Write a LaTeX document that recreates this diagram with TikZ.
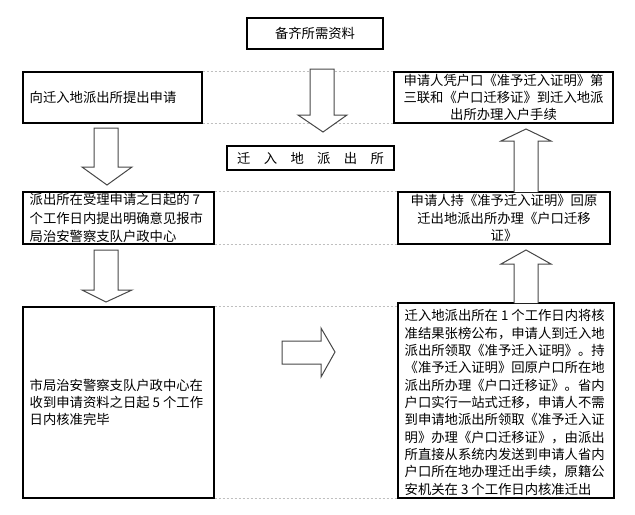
\documentclass[tikz,border=0pt]{standalone}
\usepackage{fontspec}
\setmainfont{Noto Sans CJK SC}
\def\px{0.75pt}
\begin{document}
\begin{tikzpicture}[x=0.75pt,y=-0.75pt,
  box/.style={draw, line width=1.1*\px, inner sep=0pt, align=center,
    font=\fontsize{10pt}{13pt}\selectfont},
  txt/.style={inner sep=0pt, align=left, anchor=west,
    font=\fontsize{10pt}{13pt}\selectfont},
  barrow/.style={draw=black!72, line width=1*\px, fill=white, line join=miter},
  guide/.style={draw=black!25, line width=0.7*\px, dash pattern=on 2.5*\px off 1.5*\px}]
\useasboundingbox (0,0) rectangle (635,514);
% boxes
\node[box, minimum width=136*\px, minimum height=31*\px] (top) at (315,33.5) {备齐所需资料};
\node[box, minimum width=179*\px, minimum height=51*\px] (L1) at (112.5,97.5) {};
\node[txt] (L1t) at ([xshift=7*\px]L1.west) {向迁入地派出所提出申请};
\node[box, minimum width=167*\px, minimum height=24*\px] (M) at (310.5,158) {迁　入　地　派　出　所};
\node[box, minimum width=219*\px, minimum height=51*\px] (R1) at (503.5,97.5)
  {申请人凭户口《准予迁入证明》第\\三联和《户口迁移证》到迁入地派\\出所办理入户手续};
\node[box, minimum width=191*\px, minimum height=52*\px] (L2) at (118.5,218) {};
\node[txt, font=\fontsize{10pt}{14pt}\selectfont] (L2t) at ([xshift=7*\px]L2.west)
  {派出所在受理申请之日起的 7\\个工作日内提出明确意见报市\\局治安警察支队户政中心};
\node[box, minimum width=212*\px, minimum height=52*\px] (R2) at (504,218)
  {申请人持《准予迁入证明》回原\\迁出地派出所办理《户口迁移\\证》};
\node[box, minimum width=191*\px, minimum height=191*\px] (L3) at (118.5,402.5) {};
\node[txt] (L3t) at ([xshift=7*\px]L3.west)
  {市局治安警察支队户政中心在\\收到申请资料之日起 5 个工作\\日内核准完毕};
\node[box, minimum width=216*\px, minimum height=195*\px] (R3) at (506,400.5) {};
\node[txt] (R3t) at ([xshift=7*\px,yshift=-2*\px]R3.west)
  {迁入地派出所在 1 个工作日内将核\\准结果张榜公布，申请人到迁入地\\派出所领取《准予迁入证明》。持\\《准予迁入证明》回原户口所在地\\派出所办理《户口迁移证》。省内\\户口实行一站式迁移，申请人不需\\到申请地派出所领取《准予迁入证\\明》办理《户口迁移证》，由派出\\所直接从系统内发送到申请人省内\\户口所在地办理迁出手续，原籍公\\安机关在 3 个工作日内核准迁出};
% guide lines
\draw[guide] (L1.north east) -- (R1.north west);
\draw[guide] (L1.south east) -- (R1.south west);
\draw[guide] (L2.north east) -- (R2.north west);
\draw[guide] (L2.south east) -- (R2.south west);
\draw[guide] (L3.north east) -- (R3.west |- L3.north east);
\draw[guide] (L3.south east) -- (R3.south west);
% block arrows
\draw[barrow] (310,69) -- (334,69) -- (334,115) -- (347,115) -- (323,132) -- (298,115) -- (310,115) -- cycle;
\draw[barrow] (94,128) -- (118,128) -- (118,167) -- (132,167) -- (107,185) -- (82,167) -- (94,167) -- cycle;
\draw[barrow] (94,250) -- (118,250) -- (118,290) -- (132,290) -- (106,302) -- (82,290) -- (94,290) -- cycle;
\draw[barrow] (282,341) -- (321,341) -- (321,328) -- (335,352) -- (321,377) -- (321,364) -- (282,364) -- cycle;
\draw[barrow] (514,192) -- (514,141) -- (501,141) -- (526,129) -- (551,141) -- (538,141) -- (538,192);
\draw[barrow] (514,303) -- (514,264) -- (501,264) -- (526,250) -- (551,264) -- (538,264) -- (538,303);
\end{tikzpicture}
\end{document}
